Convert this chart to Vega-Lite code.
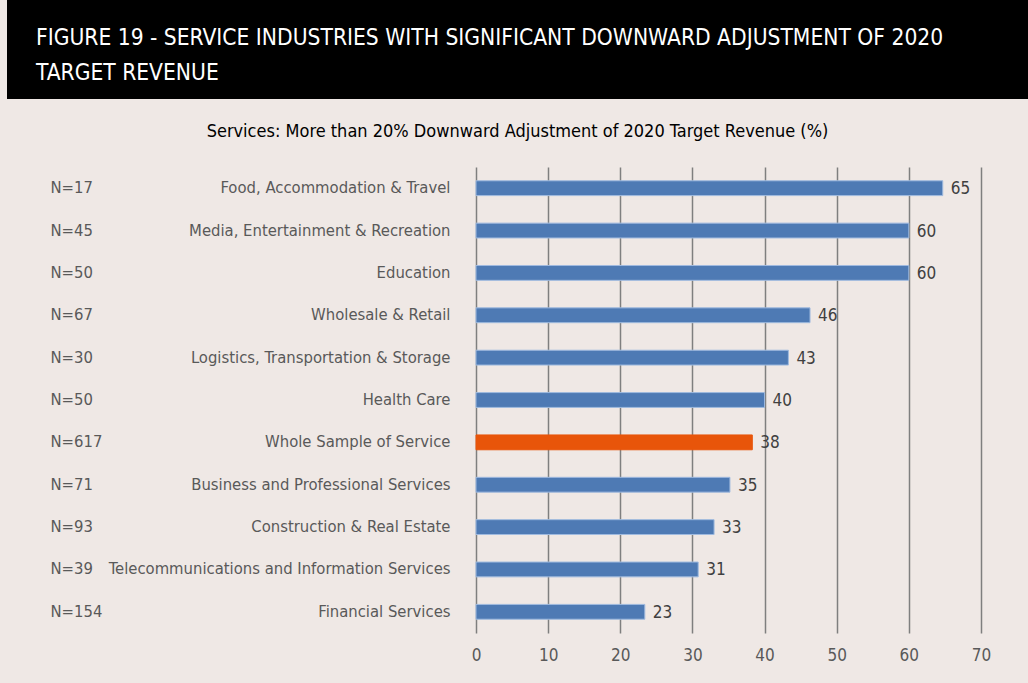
{
  "$schema": "https://vega.github.io/schema/vega-lite/v6.json",
  "background": "#efe8e5",
  "padding": {"left": 7, "top": 0, "right": 0, "bottom": 30},
  "spacing": 24,
  "config": {
    "font": "DejaVu Sans Condensed",
    "view": {"stroke": null}
  },
  "datasets": {
    "header": [
      {"title": "FIGURE 19 - SERVICE INDUSTRIES WITH SIGNIFICANT DOWNWARD ADJUSTMENT OF 2020\nTARGET REVENUE"}
    ],
    "services": [
      {"row": "N=17|Food, Accommodation & Travel", "value": 64.7, "group": "Industry"},
      {"row": "N=45|Media, Entertainment & Recreation", "value": 60.0, "group": "Industry"},
      {"row": "N=50|Education", "value": 60.0, "group": "Industry"},
      {"row": "N=67|Wholesale & Retail", "value": 46.3, "group": "Industry"},
      {"row": "N=30|Logistics, Transportation & Storage", "value": 43.3, "group": "Industry"},
      {"row": "N=50|Health Care", "value": 40.0, "group": "Industry"},
      {"row": "N=617|Whole Sample of Service", "value": 38.3, "group": "Whole sample"},
      {"row": "N=71|Business and Professional Services", "value": 35.2, "group": "Industry"},
      {"row": "N=93|Construction & Real Estate", "value": 33.0, "group": "Industry"},
      {"row": "N=39|Telecommunications and Information Services", "value": 30.8, "group": "Industry"},
      {"row": "N=154|Financial Services", "value": 23.4, "group": "Industry"}
    ]
  },
  "vconcat": [
    {
      "width": 1021,
      "height": 99,
      "view": {"fill": "#000000", "stroke": null},
      "data": {"name": "header"},
      "mark": {
        "type": "text",
        "align": "left",
        "baseline": "middle",
        "lineBreak": "\n",
        "lineHeight": 35,
        "fontSize": 22.6,
        "color": "#ffffff",
        "dx": 29,
        "dy": -12
      },
      "encoding": {
        "text": {"field": "title", "type": "nominal"},
        "x": {"datum": 0, "type": "quantitative", "scale": {"domain": [0, 1]}, "axis": null}
      }
    },
    {
      "width": 1021,
      "height": 466,
      "title": {
        "text": "Services: More than 20% Downward Adjustment of 2020 Target Revenue (%)",
        "frame": "bounds",
        "anchor": "middle",
        "fontSize": 18,
        "fontWeight": "normal",
        "color": "#000000",
        "offset": 26
      },
      "data": {"name": "services"},
      "encoding": {
        "y": {
          "field": "row",
          "type": "nominal",
          "sort": null,
          "scale": {"paddingInner": 0.65, "paddingOuter": 0.325}
        },
        "x": {
          "field": "value",
          "type": "quantitative",
          "scale": {"domain": [0, 70], "nice": false, "zero": true, "range": [469, 974]},
          "axis": {
            "title": null,
            "values": [0, 10, 20, 30, 40, 50, 60, 70],
            "grid": true,
            "gridColor": "#7f7f7f",
            "gridWidth": 1.5,
            "domain": false,
            "ticks": false,
            "tickSize": 0,
            "labelFlush": false,
            "labelPadding": 14,
            "labelFontSize": 17,
            "labelColor": "#595959"
          }
        }
      },
      "layer": [
        {
          "mark": {"type": "bar", "strokeWidth": 1},
          "encoding": {
            "y": {
              "field": "row",
              "type": "nominal",
              "sort": null,
              "axis": {
                "orient": "left",
                "offset": -469,
                "title": null,
                "labelExpr": "split(datum.label, '|')[1]",
                "domain": false,
                "ticks": false,
                "tickSize": 0,
                "grid": false,
                "labelPadding": 26,
                "labelLimit": 0,
                "labelFontSize": 16.5,
                "labelColor": "#595959"
              }
            },
            "color": {
              "field": "group",
              "type": "nominal",
              "scale": {"domain": ["Industry", "Whole sample"], "range": ["#4e7ab4", "#e8550a"]},
              "legend": null
            },
            "stroke": {
              "field": "group",
              "type": "nominal",
              "scale": {"domain": ["Industry", "Whole sample"], "range": ["#9fbadf", "#e8550a"]},
              "legend": null
            }
          }
        },
        {
          "mark": {
            "type": "text",
            "align": "left",
            "baseline": "middle",
            "dx": 8,
            "dy": 1,
            "fontSize": 17,
            "color": "#404040"
          },
          "encoding": {
            "y": {
              "field": "row",
              "type": "nominal",
              "sort": null,
              "axis": {
                "orient": "left",
                "offset": -469,
                "title": null,
                "labelExpr": "split(datum.label, '|')[0]",
                "labelAlign": "left",
                "domain": false,
                "ticks": false,
                "tickSize": 0,
                "grid": false,
                "labelPadding": 426,
                "labelLimit": 0,
                "labelFontSize": 16.5,
                "labelColor": "#595959"
              }
            },
            "text": {"field": "value", "type": "quantitative", "format": ".0f"}
          }
        }
      ],
      "resolve": {"axis": {"y": "independent"}}
    }
  ]
}
